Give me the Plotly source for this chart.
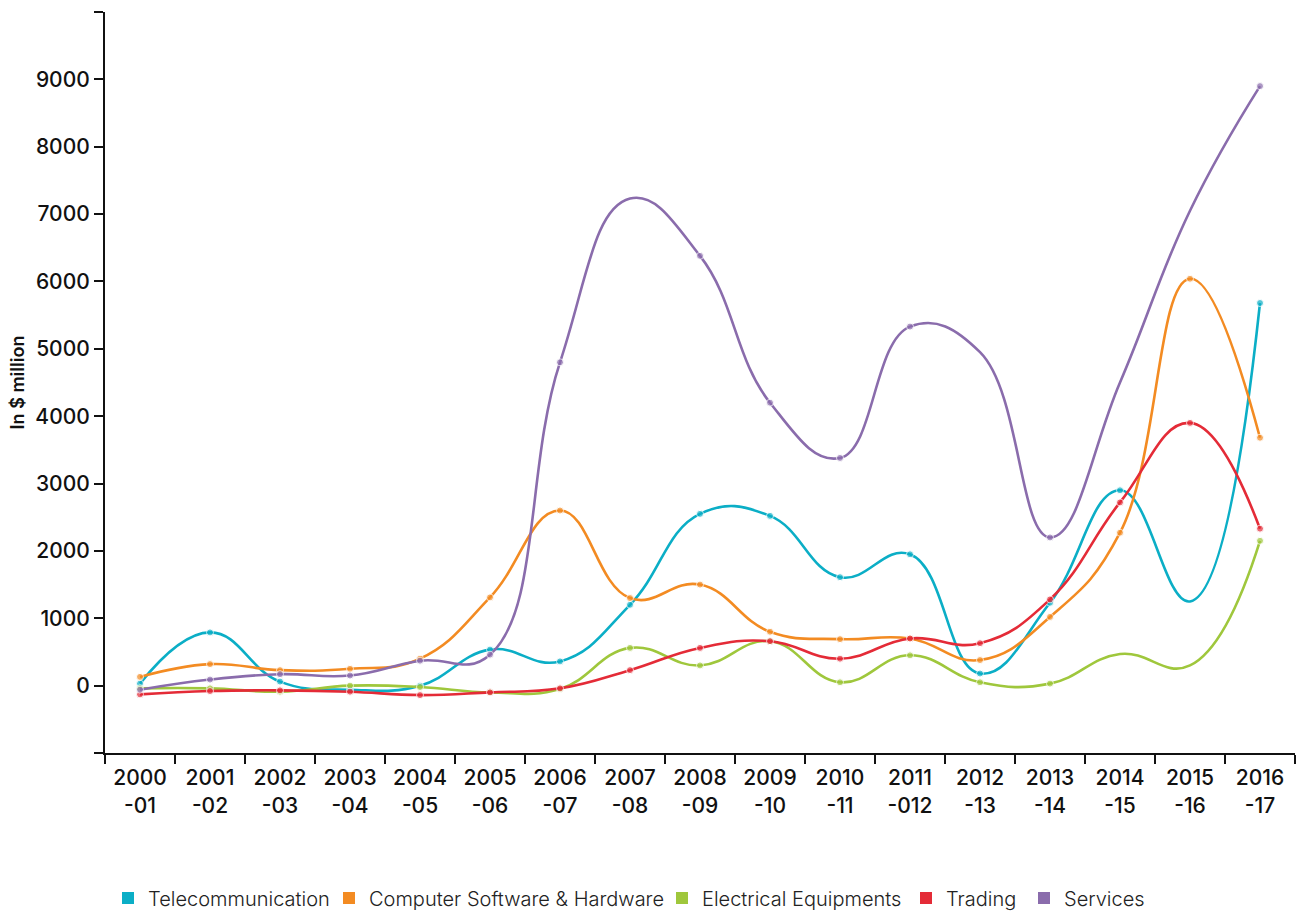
import plotly.graph_objects as go

years = ["2000<br>-01", "2001<br>-02", "2002<br>-03", "2003<br>-04", "2004<br>-05",
         "2005<br>-06", "2006<br>-07", "2007<br>-08", "2008<br>-09", "2009<br>-10",
         "2010<br>-11", "2011<br>-012", "2012<br>-13", "2013<br>-14", "2014<br>-15",
         "2015<br>-16", "2016<br>-17"]

telecom = [30, 790, 60, -60, 0, 535, 360, 1200, 2550, 2520, 1610, 1950, 180, 1230, 2900, 1250, 5680]
software = [130, 320, 230, 250, 400, 1310, 2600, 1300, 1500, 800, 690, 700, 380, 1020, 2270, 6040, 3680]
electrical = [-40, -40, -90, 0, -20, -100, -50, 560, 300, 660, 50, 450, 50, 30, 470, 300, 2150]
trading = [-130, -80, -70, -90, -140, -100, -40, 230, 560, 660, 400, 700, 630, 1280, 2720, 3900, 2330]
services = [-60, 90, 170, 150, 370, 460, 4800, 7230, 6380, 4200, 3380, 5330, 4950, 2200, 4500, 7050, 8900]

# points drawn without a dot marker
telecom_plain = [15]
software_plain = []
electrical_plain = [14, 15]
trading_plain = []
services_plain = [7, 12, 14, 15]

series = [
    ("Telecommunication", telecom, telecom_plain, "#0BAEC6"),
    ("Computer Software & Hardware", software, software_plain, "#F38B22"),
    ("Electrical Equipments", electrical, electrical_plain, "#9FC73C"),
    ("Trading", trading, trading_plain, "#E42B37"),
    ("Services", services, services_plain, "#8A6CAC"),
]

# left edge (px) of each legend entry along the bottom row
legend_left = [108, 329, 662, 906, 1024]

FONT = "Inter"
INK = "#111111"
W, H = 1304, 911

fig = go.Figure()
legend_layouts = {}
for k, (name, vals, plain, color) in enumerate(series):
    sizes = [0 if i in plain else 7 for i in range(len(vals))]
    fig.add_trace(go.Scatter(
        x=years, y=vals, name=name, mode="lines+markers",
        line=dict(color=color, width=2.6, shape="spline", smoothing=1.25),
        marker=dict(color=color, size=sizes),
        showlegend=False,
    ))
    lg = "legend" if k == 0 else f"legend{k + 1}"
    # square swatch for the legend
    fig.add_trace(go.Scatter(
        x=[None], y=[None], name=name, mode="markers",
        marker=dict(color=color, size=13, symbol="square"),
        showlegend=True, legend=lg,
    ))
    legend_layouts[lg] = dict(
        orientation="h", x=legend_left[k] / W, xref="container", xanchor="left",
        y=13 / H, yref="container", yanchor="middle",
        font=dict(size=20, family=FONT, color="#222222", weight=300),
        itemsizing="constant", bgcolor="rgba(0,0,0,0)",
    )

fig.update_layout(
    width=W, height=H,
    margin=dict(l=105, r=9, t=12, b=158, autoexpand=False),
    plot_bgcolor="white", paper_bgcolor="white",
    font=dict(family=FONT, color=INK),
    **legend_layouts,
)
fig.update_xaxes(
    type="category", range=[-0.5, 16.5], automargin=False,
    showline=True, linecolor=INK, linewidth=2,
    ticks="outside", tickson="boundaries", ticklen=9, tickwidth=2, tickcolor=INK,
    tickfont=dict(size=21, family=FONT, color=INK, weight=500),
    ticklabelstandoff=5,
    showgrid=False, zeroline=False,
)
yvals = list(range(-1000, 10001, 1000))
ytext = ["" if v in (-1000, 10000) else str(v) for v in yvals]
fig.update_yaxes(
    range=[-1000, 10000], tickvals=yvals, ticktext=ytext, automargin=False,
    showline=True, linecolor=INK, linewidth=2,
    ticks="outside", ticklen=9, tickwidth=2, tickcolor=INK,
    tickfont=dict(size=21, family=FONT, color=INK, weight=500),
    showgrid=False, zeroline=False,
    title=dict(text="In $ million", font=dict(size=18, family=FONT, color=INK, weight=600), standoff=6),
)

fig.write_html("out.html")
